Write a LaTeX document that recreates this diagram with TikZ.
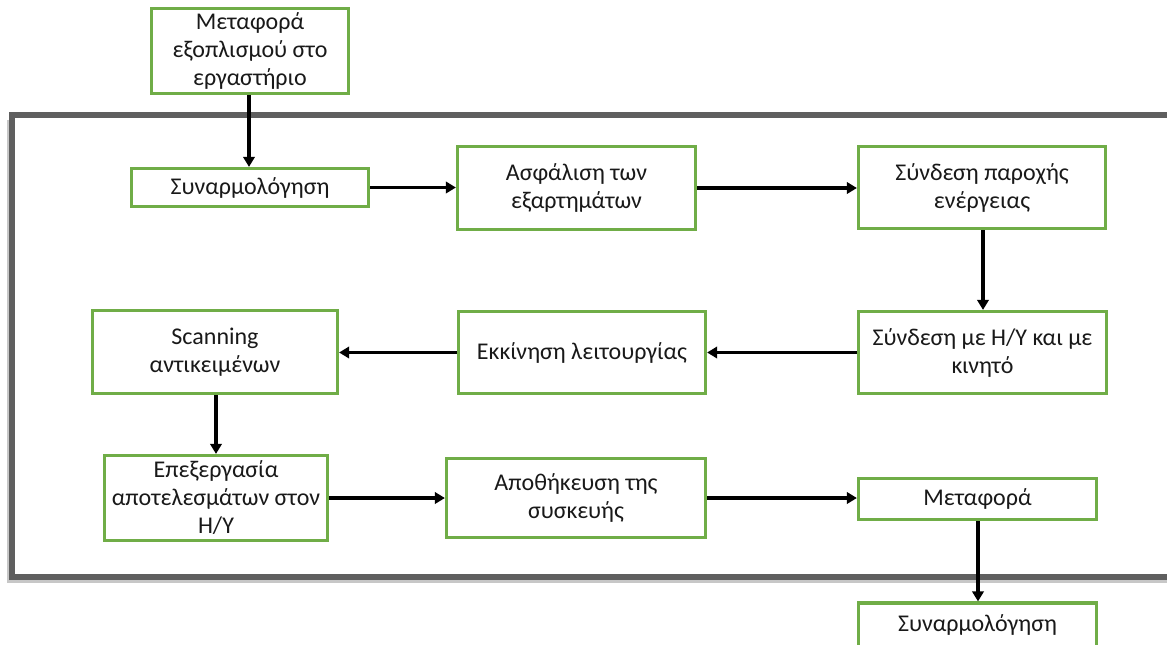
\documentclass[tikz,border=0pt]{standalone}
\usepackage{fontspec}
\setmainfont{Carlito}
\usetikzlibrary{arrows.meta,calc}
\definecolor{boxgreen}{HTML}{70AD47}
\definecolor{framegray}{HTML}{5F5F5F}
\begin{document}
\begin{tikzpicture}[x=0.75pt,y=-0.75pt,
  fbox/.style={draw=boxgreen,line width=2.4pt,fill=white,inner sep=0pt,align=center,
    font=\fontsize{18}{21}\selectfont,text=black!90},
  arr/.style={draw=black,line width=2.6pt,-{Triangle[length=7.5pt,width=8.5pt]}}]
\useasboundingbox (0,0) rectangle (1167,644);
% frame with shadow
\draw[black!22,line width=3pt] (9,120) -- (9,581) -- (1190,581);
\draw[framegray,line width=4pt] (12,115) rectangle (1190,577);
% nodes
\node[fbox,minimum width=197*0.75pt,minimum height=85*0.75pt] (top) at (250,51) {Μεταφορά\\εξοπλισμού στο\\εργαστήριο};
\node[fbox,minimum width=237*0.75pt,minimum height=38*0.75pt] (s1) at (250,187.5) {Συναρμολόγηση};
\node[fbox,minimum width=238*0.75pt,minimum height=83*0.75pt] (asf) at (576.5,188) {Ασφάλιση των\\εξαρτημάτων};
\node[fbox,minimum width=247*0.75pt,minimum height=82*0.75pt] (par) at (982,187.5) {Σύνδεση παροχής\\ενέργειας};
\node[fbox,minimum width=248*0.75pt,minimum height=82*0.75pt] (hy) at (982.5,352.5) {Σύνδεση με Η/Υ και με\\κινητό};
\node[fbox,minimum width=247*0.75pt,minimum height=82*0.75pt] (ekk) at (582,352.5) {Εκκίνηση λειτουργίας};
\node[fbox,minimum width=245*0.75pt,minimum height=83*0.75pt] (scan) at (215,352) {Scanning\\αντικειμένων};
\node[fbox,minimum width=223*0.75pt,minimum height=85*0.75pt] (epe) at (216,498) {Επεξεργασία\\αποτελεσμάτων στον\\Η/Υ};
\node[fbox,minimum width=259*0.75pt,minimum height=79*0.75pt] (apo) at (576,498) {Αποθήκευση της\\συσκευής};
\node[fbox,minimum width=238*0.75pt,minimum height=41*0.75pt] (met) at (977.5,499) {Μεταφορά};
\node[fbox,minimum width=238*0.75pt,minimum height=44*0.75pt] (s2) at (977.5,625) {Συναρμολόγηση};
% connectors
\draw[arr] (top.south -| 249,0) -- (s1.north -| 249,0);
\draw[arr] (s1.east) -- (asf.west |- s1.east);
\draw[arr] (asf.east) -- (par.west |- asf.east);
\draw[arr] (par.south -| 983,0) -- (hy.north -| 983,0);
\draw[arr] (hy.west) -- (ekk.east |- hy.west);
\draw[arr] (ekk.west) -- (scan.east |- ekk.west);
\draw[arr] (scan.south -| 216,0) -- (epe.north -| 216,0);
\draw[arr] (epe.east) -- (apo.west |- epe.east);
\draw[arr] (apo.east) -- (met.west |- apo.east);
\draw[arr] (met.south -| 978,0) -- (s2.north -| 978,0);
\end{tikzpicture}
\end{document}
